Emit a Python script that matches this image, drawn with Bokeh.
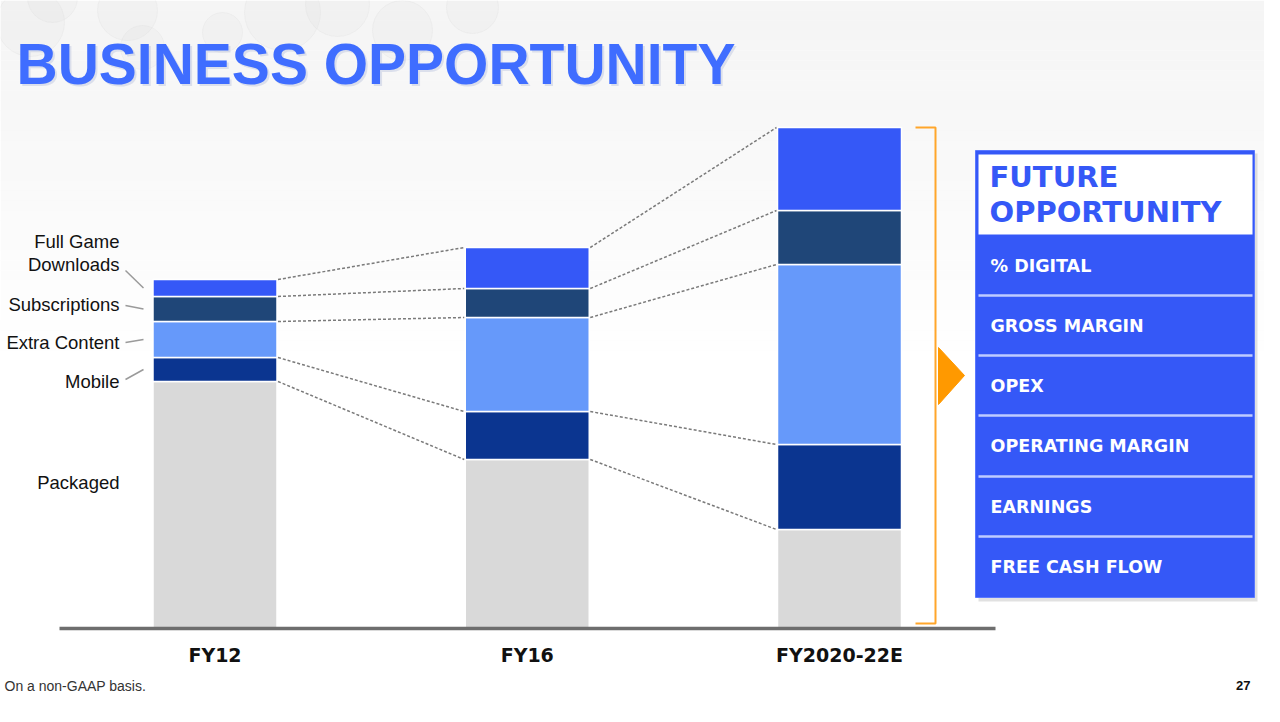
import numpy as np
from bokeh.plotting import figure
from bokeh.models import Range1d, ColumnDataSource
from bokeh.core.properties import value
from bokeh.embed import file_html
from bokeh.resources import INLINE

# ---------------- data ----------------
categories = ["FY12", "FY16", "FY2020-22E"]
series = ["Packaged", "Mobile", "Extra Content", "Subscriptions", "Full Game Downloads"]
packaged = [247, 169, 99]
mobile = [24, 48, 85]
extra_content = [36, 94, 180]
subscriptions = [25, 29, 54]
full_game_downloads = [17, 41, 83]
colors = ["#D9D9D9", "#0B3590", "#6699FA", "#1F4678", "#3558F7"]
opportunity_items = ["% DIGITAL", "GROSS MARGIN", "OPEX", "OPERATING MARGIN",
                     "EARNINGS", "FREE CASH FLOW"]

# ---------------- layout helpers (slide pixel -> data) ----------------
W, H = 1264, 706


def X(rx):
    return rx - 8


def Y(ry):
    return 636 - ry


p = figure(width=W, height=H, x_range=Range1d(0, W), y_range=Range1d(Y(714), Y(8)),
           output_backend="svg", toolbar_location=None, min_border=0,
           x_axis_location=None, y_axis_location=None)
p.grid.visible = False
p.outline_line_color = None
p.background_fill_color = "white"
p.border_fill_color = "white"

# soft background gradient at top
nb = 36
for i in range(nb):
    y0 = 360 * i / nb
    y1 = 360 * (i + 1) / nb
    p.quad(left=0, right=W, top=Y(y0 + 8), bottom=Y(y1 + 8), fill_color="#ECECEC",
           fill_alpha=0.55 * (1 - i / nb), line_color=None)

# faint bubbles top-left
bx = [38, 135, 150, 290, 345, 410, 230, 480, 60]
by = [30, 18, 55, 20, 12, 38, 40, 15, 5]
br = [34, 30, 22, 38, 32, 30, 20, 26, 25]
p.circle(x=[X(v) for v in bx], y=[Y(v) for v in by], radius=br, fill_color="#D6D6D6",
         fill_alpha=0.13, line_color="#D0D0D0", line_alpha=0.18)

# ---------------- title ----------------
title_font = value("Liberation Sans")
p.text(x=[X(26)], y=[Y(73)], text=["BUSINESS OPPORTUNITY"], text_font=title_font,
       text_font_style="bold", text_font_size="57px", text_color="#9AA8D0",
       text_alpha=0.3, text_baseline="middle")
p.text(x=[X(24)], y=[Y(71)], text=["BUSINESS OPPORTUNITY"], text_font=title_font,
       text_font_style="bold", text_font_size="57px", text_color="#3F6DFF",
       text_baseline="middle")

# ---------------- stacked bars ----------------
spacing = 312.25
cx = [X(222.5) + i * spacing for i in range(len(categories))]
bar_w = 124
src = ColumnDataSource(dict(x=cx, **{
    "Packaged": packaged, "Mobile": mobile, "Extra Content": extra_content,
    "Subscriptions": subscriptions, "Full Game Downloads": full_game_downloads}))
p.vbar_stack(series, x="x", width=bar_w, color=colors, line_color="white",
             line_width=1.5, source=src)

# dashed connectors between bar boundaries
vals = np.array([packaged, mobile, extra_content, subscriptions, full_game_downloads])
cum = np.cumsum(vals, axis=0)  # shape (5, 3)
xs0, ys0, xs1, ys1 = [], [], [], []
for i in range(len(categories) - 1):
    for k in range(len(series)):
        xs0.append(cx[i] + bar_w / 2 + 1)
        ys0.append(cum[k, i])
        xs1.append(cx[i + 1] - bar_w / 2 - 1)
        ys1.append(cum[k, i + 1])
p.segment(x0=xs0, y0=ys0, x1=xs1, y1=ys1, line_color="#7A7A7A", line_width=1.5,
          line_dash="3 2")

# baseline axis
p.segment(x0=[X(67)], y0=[0], x1=[X(1003)], y1=[0], line_color="#6E6E6E", line_width=3.5)
p.text(x=cx, y=[Y(662)] * 3, text=categories, text_font=value("DejaVu Sans"),
       text_font_style="bold", text_font_size="19px", text_color="#111111",
       text_align="center", text_baseline="middle")

# series labels with leader lines
lab_font = value("Liberation Sans")
label_text = ["Full Game", "Downloads", "Subscriptions", "Extra Content", "Mobile", "Packaged"]
label_ry = [249, 272, 312, 350, 389, 490]
p.text(x=[X(127)] * len(label_text), y=[Y(v) for v in label_ry], text=label_text,
       text_font=lab_font, text_font_size="18.5px", text_color="#111111",
       text_align="right", text_baseline="middle")
mids = (cum[:, 0] - vals[:, 0] / 2)
leader_start = [387, 350, 313, 278]  # Mobile, Extra, Subs, FGD (slide y)
lx0, ly0, lx1, ly1 = [], [], [], []
for k, ry in zip([1, 2, 3, 4], leader_start):
    lx0.append(X(133))
    ly0.append(Y(ry))
    lx1.append(X(151))
    ly1.append(mids[k])
p.segment(x0=lx0, y0=ly0, x1=lx1, y1=ly1, line_color="#9A9A9A", line_width=1.5)

# orange bracket and arrow
p.line([X(923), X(943), X(943), X(923)], [Y(135), Y(135), Y(631), Y(631)],
       line_color="#FFA62B", line_width=2)
p.patch([X(946), X(972), X(946)], [Y(355), Y(383), Y(412)], fill_color="#FF9900",
        line_color="#FF9900")

# ---------------- future opportunity box ----------------
p.quad(left=X(986), right=X(1265), top=Y(161), bottom=Y(609), fill_color="#888888",
       fill_alpha=0.25, line_color=None)
p.quad(left=X(983), right=X(1262), top=Y(158), bottom=Y(605), fill_color="#3558F7",
       line_color="#5A78FF", line_width=1)
p.quad(left=X(986), right=X(1260), top=Y(162), bottom=Y(242), fill_color="white",
       line_color=None)
sep_ry = [303, 363, 423, 484, 544]
p.segment(x0=[X(986)] * 5, y0=[Y(v) for v in sep_ry], x1=[X(1260)] * 5,
          y1=[Y(v) for v in sep_ry], line_color="#BFCBFF", line_width=2.5)
hdr_font = value("DejaVu Sans")
p.text(x=[X(997), X(997)], y=[Y(184), Y(219)], text=["FUTURE", "OPPORTUNITY"],
       text_font=hdr_font, text_font_style="bold", text_font_size="29px",
       text_color="#3558F7", text_baseline="middle")
item_ry = [273, 333, 393, 453, 514, 574]
p.text(x=[X(998)] * len(opportunity_items), y=[Y(v) for v in item_ry],
       text=opportunity_items, text_font=hdr_font, text_font_style="bold",
       text_font_size="17.5px", text_color="white", text_baseline="middle")

# ---------------- footer ----------------
p.text(x=[X(12)], y=[Y(693)], text=["On a non-GAAP basis."], text_font=lab_font,
       text_font_size="14px", text_color="#333333", text_baseline="middle")
p.text(x=[X(1258)], y=[Y(693)], text=["27"], text_font=lab_font, text_font_style="bold",
       text_font_size="13px", text_color="#111111", text_align="right",
       text_baseline="middle")

open("out.html", "w").write(file_html(p, INLINE))
